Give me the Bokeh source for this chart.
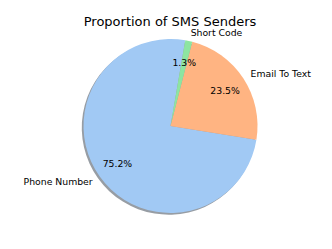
import math
from bokeh.plotting import figure
from bokeh.models import Range1d, ColumnDataSource
from bokeh.core.properties import value
from bokeh.embed import file_html
from bokeh.resources import INLINE

# ---- data ----
labels = ["Phone Number", "Email To Text", "Short Code"]
percents = [75.2, 23.5, 1.3]
colors = ["#a1c9f4", "#ffb482", "#8de5a1"]
start_deg = 80.2
title_text = "Proportion of SMS Senders"

# ---- geometry (layout, in figure pixels) ----
R_PX = 87.0
W, H = 316, 233
CX, CY = 170.0, 125.5        # pie centre
TX, TY = 169.5, 21.0         # title centre

p = figure(width=W, height=H, output_backend="svg", toolbar_location=None,
           x_range=Range1d(-CX / R_PX, (W - CX) / R_PX),
           y_range=Range1d(-(H - CY) / R_PX, CY / R_PX),
           min_border=0, min_border_left=0, min_border_right=0,
           min_border_top=0, min_border_bottom=0)
p.axis.visible = False
p.grid.visible = False
p.outline_line_color = None
p.background_fill_color = "white"

total = sum(percents)
starts, ends, mids = [], [], []
a = math.radians(start_deg)
for v in percents:
    span = 2 * math.pi * v / total
    starts.append(a)
    ends.append(a + span)
    mids.append(a + span / 2)
    a += span

def darken(h, f=0.3):
    h = h.lstrip("#")
    r, g, b = (int(h[i:i + 2], 16) for i in (0, 2, 4))
    return "#%02x%02x%02x" % (int(r * f), int(g * f), int(b * f))

shadow_src = ColumnDataSource(dict(start=starts, end=ends,
                                   color=[darken(c) for c in colors]))
p.wedge(x=-0.02, y=-0.02, radius=1.0, start_angle="start", end_angle="end",
        direction="anticlock", fill_color="color", fill_alpha=0.5,
        line_color=None, source=shadow_src)

src = ColumnDataSource(dict(start=starts, end=ends, color=colors))
p.wedge(x=0, y=0, radius=1.0, start_angle="start", end_angle="end",
        direction="anticlock", fill_color="color", line_color=None, source=src)

# outer labels
lx = [1.1 * math.cos(m) for m in mids]
ly = [1.1 * math.sin(m) for m in mids]
align = ["left" if math.cos(m) > 0 else "right" for m in mids]
p.text(x=lx, y=ly, text=labels, text_align=align, text_baseline="middle",
       text_font_size="9.3px", text_font=value("DejaVu Sans"), text_color="black")

# percent labels
px = [0.75 * math.cos(m) for m in mids]
py = [0.75 * math.sin(m) for m in mids]
p.text(x=px, y=py, text=["%.1f%%" % v for v in percents], text_align="center",
       text_baseline="middle", text_font_size="9.3px",
       text_font=value("DejaVu Sans"), text_color="black")

# title
p.text(x=[(TX - CX) / R_PX], y=[(CY - TY) / R_PX], text=[title_text],
       text_align="center", text_baseline="middle", text_font_size="13px",
       text_font=value("DejaVu Sans"), text_color="black")

open("out.html", "w").write(file_html(p, INLINE))
